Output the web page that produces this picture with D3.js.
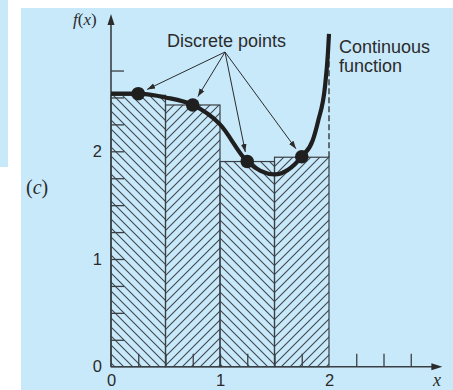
<!DOCTYPE html>
<html>
<head>
<meta charset="utf-8">
<script src="https://cdn.jsdelivr.net/npm/d3@7/dist/d3.min.js"></script>
<style>
  html, body { margin: 0; padding: 0; background: #fff; }
  svg { display: block; }
</style>
</head>
<body>
<div id="chart"></div>
<script>
// rectangles (midpoint rule): left edge, width, height
const barStarts = [0, 0.5, 1.0, 1.5];
const barWidth = 0.5;
const barHeights = [2.52, 2.43, 1.905, 1.945];
const barHatch = ['back', 'fwd', 'back', 'fwd'];

// discrete points
const pointX = [0.25, 0.75, 1.25, 1.75];
const pointY = [2.535, 2.43, 1.905, 1.95];

// continuous function
const curveX = [0, 0.25, 0.5, 0.75, 1.0, 1.25, 1.5, 1.75, 1.85, 1.9, 1.963, 1.99, 2.0];
const curveY = [2.535, 2.535, 2.50, 2.43, 2.25, 1.905, 1.785, 1.95, 2.10, 2.28, 2.60, 2.91, 3.09];

// ticks and labels
const xTicks = [0.25, 0.5, 0.75, 1, 1.25, 1.5, 1.75, 2.25, 2.5, 2.75];
const yTicks = [0.25, 0.5, 0.75, 1, 1.25, 1.5, 1.75, 2, 2.25, 2.5, 2.75];
const xLabels = [0, 1, 2];
const yLabels = [0, 1, 2];

const W = 453, H = 390;
const ink = '#2b2b2b';

const svg = d3.select('#chart').append('svg')
  .attr('width', W)
  .attr('height', H);

// background panels
svg.append('rect').attr('x', 0).attr('y', 0).attr('width', 8).attr('height', 167).attr('fill', '#c8e9fa');
svg.append('rect').attr('x', 21).attr('y', 8).attr('width', W - 21).attr('height', H - 8).attr('fill', '#c8e9fa');

const x = d3.scaleLinear().domain([0, 2]).range([111, 329]);
const y = d3.scaleLinear().domain([0, 1]).range([366.7, 259]);

// hatch patterns
const defs = svg.append('defs');
const hs = 9;
const back = defs.append('pattern')
  .attr('id', 'back').attr('patternUnits', 'userSpaceOnUse')
  .attr('width', hs).attr('height', hs);
back.append('path')
  .attr('d', `M0,0L${hs},${hs}M${-1},${hs - 1}L1,${hs + 1}M${hs - 1},-1L${hs + 1},1`)
  .attr('stroke', '#41464c').attr('stroke-width', 1.1);
const fwd = defs.append('pattern')
  .attr('id', 'fwd').attr('patternUnits', 'userSpaceOnUse')
  .attr('width', hs).attr('height', hs);
fwd.append('path')
  .attr('d', `M0,${hs}L${hs},0M-1,1L1,-1M${hs - 1},${hs + 1}L${hs + 1},${hs - 1}`)
  .attr('stroke', '#41464c').attr('stroke-width', 1.1);

// bars
svg.selectAll('.bar')
  .data(barStarts)
  .enter().append('rect')
  .attr('class', 'bar')
  .attr('x', d => x(d))
  .attr('width', d => x(d + barWidth) - x(d))
  .attr('y', (d, i) => y(barHeights[i]))
  .attr('height', (d, i) => y(0) - y(barHeights[i]))
  .attr('fill', (d, i) => `url(#${barHatch[i]})`)
  .attr('stroke', '#3a3f44')
  .attr('stroke-width', 1.2);

// dashed line at x = 2
svg.append('line')
  .attr('x1', x(2)).attr('x2', x(2))
  .attr('y1', y(barHeights[3])).attr('y2', y(2.88))
  .attr('stroke', ink).attr('stroke-width', 1.3)
  .attr('stroke-dasharray', '6 3');

// axes
const xAxisTicks = svg.append('g')
  .attr('transform', `translate(0,${y(0)})`)
  .call(d3.axisTop(x).tickValues(xTicks).tickSize(13).tickFormat(''));
xAxisTicks.select('.domain').remove();
xAxisTicks.selectAll('line').attr('stroke', '#3a3f44').attr('stroke-width', 1.3);

const yAxisTicks = svg.append('g')
  .attr('transform', `translate(${x(0)},0)`)
  .call(d3.axisRight(y).tickValues(yTicks).tickSize(13).tickFormat(''));
yAxisTicks.select('.domain').remove();
yAxisTicks.selectAll('line').attr('stroke', '#3a3f44').attr('stroke-width', 1.3);

const xAxisLabels = svg.append('g')
  .attr('transform', `translate(0,${y(0)})`)
  .call(d3.axisBottom(x).tickValues(xLabels).tickSize(0).tickPadding(8).tickFormat(d3.format('d')));
xAxisLabels.select('.domain').remove();
xAxisLabels.selectAll('text')
  .style('font-family', '"Liberation Sans", Arial, sans-serif')
  .style('font-size', '16.5px').attr('fill', ink);

const yAxisLabels = svg.append('g')
  .attr('transform', `translate(${x(0)},0)`)
  .call(d3.axisLeft(y).tickValues(yLabels).tickSize(0).tickPadding(9).tickFormat(d3.format('d')));
yAxisLabels.select('.domain').remove();
yAxisLabels.selectAll('text')
  .style('font-family', '"Liberation Sans", Arial, sans-serif')
  .style('font-size', '16.5px').attr('fill', ink);

// axis lines with arrows
const xEnd = 3.04, yEnd = 3.275;
svg.append('line')
  .attr('x1', x(0)).attr('x2', x(xEnd) - 6)
  .attr('y1', y(0)).attr('y2', y(0))
  .attr('stroke', '#3a3f44').attr('stroke-width', 1.6);
svg.append('path')
  .attr('d', `M${x(xEnd)},${y(0)}L${x(xEnd) - 11},${y(0) - 3.5}L${x(xEnd) - 11},${y(0) + 3.5}Z`)
  .attr('fill', ink);
svg.append('line')
  .attr('x1', x(0)).attr('x2', x(0))
  .attr('y1', y(0)).attr('y2', y(yEnd) + 6)
  .attr('stroke', '#3a3f44').attr('stroke-width', 1.6);
svg.append('path')
  .attr('d', `M${x(0)},${y(yEnd)}L${x(0) - 3.5},${y(yEnd) + 11}L${x(0) + 3.5},${y(yEnd) + 11}Z`)
  .attr('fill', ink);

// continuous function
const line = d3.line()
  .x(i => x(curveX[i]))
  .y(i => y(curveY[i]))
  .curve(d3.curveMonotoneX);
svg.append('path')
  .datum(d3.range(curveX.length))
  .attr('fill', 'none')
  .attr('stroke', '#1f1f1f')
  .attr('stroke-width', 4.2)
  .attr('stroke-linecap', 'butt')
  .attr('d', line);

// discrete points
const r = 6.8;
svg.selectAll('.dot')
  .data(pointX)
  .enter().append('circle')
  .attr('class', 'dot')
  .attr('cx', d => x(d))
  .attr('cy', (d, i) => y(pointY[i]))
  .attr('r', r)
  .attr('fill', '#1f1f1f');

// arrows from the label to each point
const origin = [225, 52];
defs.append('marker')
  .attr('id', 'head')
  .attr('viewBox', '0 0 10 10')
  .attr('refX', 10).attr('refY', 5)
  .attr('markerWidth', 8).attr('markerHeight', 8)
  .attr('markerUnits', 'userSpaceOnUse')
  .attr('orient', 'auto')
  .append('path')
  .attr('d', 'M0,1.5L10,5L0,8.5Z')
  .attr('fill', ink);

svg.selectAll('.pointer')
  .data(pointX)
  .enter().append('line')
  .attr('class', 'pointer')
  .each(function (d, i) {
    const cx = x(d), cy = y(pointY[i]);
    const dx = cx - origin[0], dy = cy - origin[1];
    const len = Math.hypot(dx, dy);
    const k = (len - r - 3) / len;
    d3.select(this)
      .attr('x1', origin[0]).attr('y1', origin[1])
      .attr('x2', origin[0] + dx * k).attr('y2', origin[1] + dy * k);
  })
  .attr('stroke', ink)
  .attr('stroke-width', 1)
  .attr('marker-end', 'url(#head)');

// annotations
const sans = '"Liberation Sans", Arial, sans-serif';
const serif = '"Liberation Serif", "Times New Roman", serif';

svg.append('text')
  .attr('x', 167).attr('y', 46.5)
  .style('font-family', sans).style('font-size', '18px')
  .attr('fill', ink)
  .text('Discrete points');

const cont = svg.append('text')
  .attr('x', 339).attr('y', 52.5)
  .style('font-family', sans).style('font-size', '18px')
  .attr('fill', ink);
cont.append('tspan').attr('x', 339).text('Continuous');
cont.append('tspan').attr('x', 339).attr('dy', 19.5).text('function');

// f(x) with italic letters and upright parentheses
const fx = svg.append('text')
  .attr('x', 73).attr('y', 25)
  .style('font-family', serif).style('font-size', '17px')
  .attr('fill', ink);
fx.append('tspan').style('font-style', 'italic').text('f');
fx.append('tspan').text('(');
fx.append('tspan').style('font-style', 'italic').text('x');
fx.append('tspan').text(')');

const lab = svg.append('text')
  .attr('x', 26).attr('y', 194)
  .style('font-family', serif).style('font-size', '20px')
  .attr('fill', ink);
lab.append('tspan').text('(');
lab.append('tspan').style('font-style', 'italic').text('c');
lab.append('tspan').text(')');

svg.append('text')
  .attr('x', 433).attr('y', 386)
  .style('font-family', serif).style('font-style', 'italic').style('font-size', '18px')
  .attr('fill', ink)
  .text('x');
</script>
</body>
</html>
